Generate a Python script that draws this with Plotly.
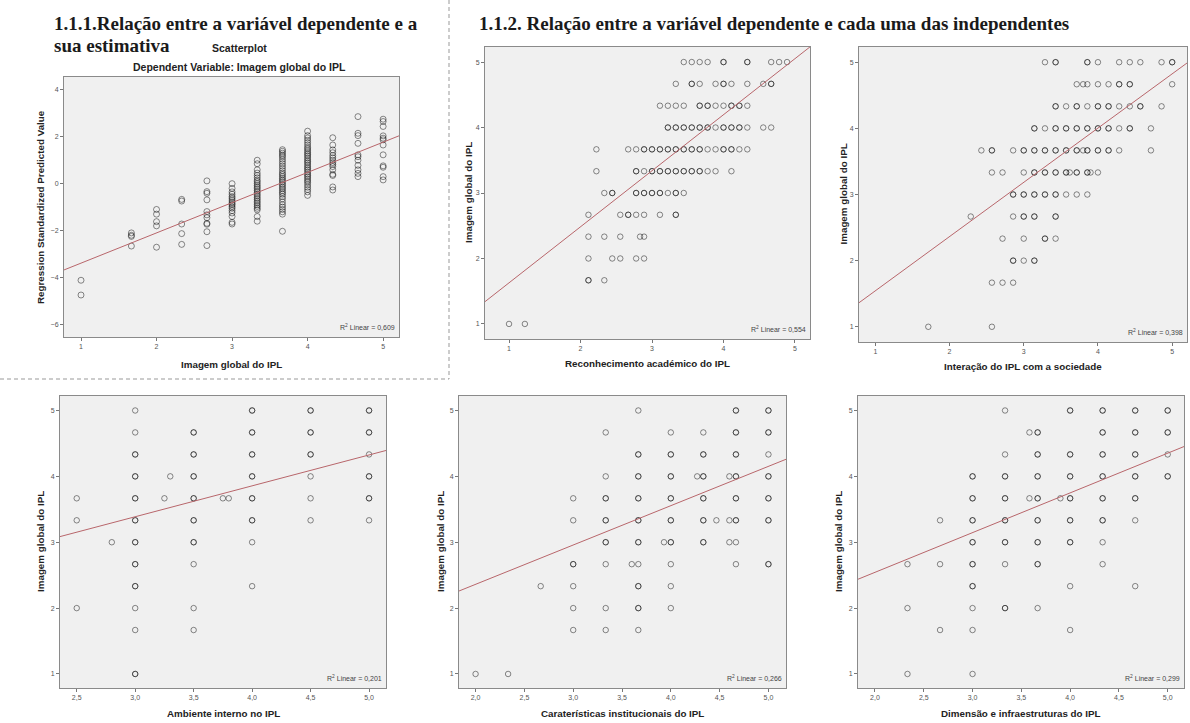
import plotly.graph_objects as go

W, H = 1190, 723

# ---------------- DATA ----------------
# Panel 1: Imagem global (x) vs Regression Standardized Predicted Value (y)
p1_levels = [1, 1.667, 2, 2.333, 2.667, 3, 3.333, 3.667, 4, 4.333, 4.667, 5]
p1_values = [
    [-4.12, -4.75],
    [-2.1, -2.2, -2.25, -2.66],
    [-1.1, -1.3, -1.62, -1.8, -2.71],
    [-0.67, -0.74, -1.72, -2.13, -2.59],
    [0.12, -0.34, -0.41, -0.69, -1.19, -1.33, -1.45, -1.69, -1.73, -2.05, -2.64],
    [0.0, -0.2, -0.35, -0.45, -0.55, -0.62, -0.7, -0.78, -0.85, -0.9, -0.98,
     -1.05, -1.15, -1.25, -1.4, -1.65, -1.72],
    [1.0, 0.85, 0.59, 0.45, 0.35, 0.25, 0.15, 0.08, 0.0, -0.08, -0.15, -0.22,
     -0.3, -0.37, -0.45, -0.52, -0.6, -0.67, -0.75, -0.82, -0.9, -0.97, -1.05,
     -1.12, -1.4, -1.6],
    [1.45, 1.38, 1.3, 1.22, 1.15, 1.05, 0.95, 0.85, 0.75, 0.65, 0.55, 0.45, 0.38,
     0.3, 0.22, 0.15, 0.08, 0.0, -0.07, -0.15, -0.22, -0.3, -0.38, -0.45, -0.55,
     -0.65, -0.78, -0.9, -1.0, -1.1, -1.2, -1.3, -2.03],
    [2.24, 2.05, 1.95, 1.85, 1.75, 1.65, 1.55, 1.48, 1.4, 1.32, 1.25, 1.18, 1.1,
     1.02, 0.95, 0.88, 0.8, 0.72, 0.65, 0.58, 0.5, 0.42, 0.35, 0.28, 0.2, 0.12,
     0.05, -0.05, -0.15, -0.25, -0.35, -0.5],
    [1.96, 1.65, 1.44, 1.32, 1.2, 1.1, 1.0, 0.9, 0.82, 0.73, 0.59, 0.4, 0.35,
     -0.14, -0.27],
    [2.86, 2.15, 2.05, 1.72, 1.23, 1.15, 1.0, 0.78, 0.59, 0.44, 0.3],
    [2.75, 2.65, 2.44, 2.04, 1.94, 1.87, 1.65, 1.23, 0.76, 0.7, 0.3, 0.16],
]
p1_fit = [-4.68, 1.29]          # intercept, slope
p1_r2 = "0,609"

# Panel 2: Reconhecimento académico (x) vs Imagem global (y) — rows by y
p2_rows = [5, 4.667, 4.333, 4, 3.667, 3.333, 3, 2.667, 2.333, 2, 1.667, 1]
p2_xs = [
    [3.444, 3.556, 3.667, 3.778, 4.0, 4.0, 4.333, 4.333, 4.667, 4.778, 4.889],
    [3.333, 3.556, 3.556, 3.667, 3.889, 4.0, 4.0, 4.111, 4.333, 4.556, 4.667, 4.667],
    [3.111, 3.222, 3.333, 3.444, 3.667, 3.667, 3.778, 3.778, 3.889, 4.0, 4.111,
     4.111, 4.222, 4.222, 4.333],
    [3.222, 3.222, 3.333, 3.333, 3.444, 3.444, 3.556, 3.556, 3.667, 3.667, 3.778,
     3.778, 3.889, 4.0, 4.0, 4.111, 4.111, 4.222, 4.222, 4.333, 4.556, 4.667],
    [2.222, 2.667, 2.778, 2.889, 2.889, 3.0, 3.0, 3.111, 3.111, 3.222, 3.222,
     3.333, 3.333, 3.444, 3.444, 3.556, 3.556, 3.667, 3.667, 3.778, 3.889, 4.0,
     4.0, 4.111, 4.111, 4.222, 4.333],
    [2.222, 2.778, 2.778, 2.889, 3.0, 3.0, 3.111, 3.111, 3.222, 3.222, 3.333,
     3.333, 3.444, 3.444, 3.556, 3.556, 3.667, 3.667, 3.778, 3.889, 4.111],
    [2.333, 2.444, 2.444, 2.778, 2.778, 2.889, 2.889, 3.0, 3.0, 3.111, 3.111,
     3.222, 3.333, 3.333, 3.444],
    [2.111, 2.556, 2.667, 2.667, 2.778, 2.889, 3.111, 3.333, 3.333],
    [2.111, 2.333, 2.556, 2.833, 2.889],
    [2.111, 2.444, 2.556, 2.778, 2.889],
    [2.111, 2.111, 2.333],
    [1.0, 1.222],
]
p2_fit = [0.772, 0.856]
p2_r2 = "0,554"

# Panel 3: Interação do IPL com a sociedade (x) vs Imagem global (y) — rows by y
p3_rows = [5, 4.667, 4.333, 4, 3.667, 3.333, 3, 2.667, 2.333, 2, 1.667, 1]
p3_xs = [
    [3.286, 3.429, 3.429, 3.857, 3.857, 4.0, 4.286, 4.429, 4.571, 4.857, 5.0, 5.0],
    [3.714, 3.8, 3.857, 4.0, 4.143, 4.286, 4.286, 4.429, 4.429, 5.0],
    [3.429, 3.429, 3.571, 3.714, 3.714, 3.857, 4.0, 4.0, 4.143, 4.143, 4.286,
     4.429, 4.571, 4.571, 4.857],
    [3.143, 3.143, 3.286, 3.429, 3.429, 3.571, 3.571, 3.714, 3.714, 3.857, 3.857,
     4.0, 4.0, 4.143, 4.143, 4.286, 4.429, 4.429, 4.714],
    [2.429, 2.571, 2.571, 2.857, 3.0, 3.0, 3.143, 3.143, 3.286, 3.286, 3.429,
     3.429, 3.571, 3.571, 3.714, 3.714, 3.8, 3.857, 3.857, 4.0, 4.0, 4.143,
     4.143, 4.286, 4.714],
    [2.571, 2.714, 3.0, 3.143, 3.143, 3.286, 3.286, 3.429, 3.429, 3.571, 3.571,
     3.62, 3.714, 3.714, 3.857, 3.857, 3.9, 4.0],
    [2.857, 2.857, 3.0, 3.0, 3.143, 3.143, 3.286, 3.286, 3.429, 3.429, 3.571,
     3.714, 3.857],
    [2.286, 2.857, 3.0, 3.0, 3.143, 3.143, 3.429, 3.429],
    [2.714, 3.0, 3.286, 3.286, 3.429],
    [2.857, 2.857, 3.0, 3.143, 3.143],
    [2.571, 2.714, 2.857],
    [1.714, 2.571],
]
p3_fit = [0.724, 0.82]
p3_r2 = "0,398"

# Panel 4: Ambiente interno (x) vs Imagem global (y) — columns by x
p4_cols = [2.5, 2.8, 3.0, 3.25, 3.3, 3.5, 3.75, 3.8, 4.0, 4.5, 5.0]
p4_ys = [
    [3.667, 3.333, 2.0],
    [3.0],
    [5, 4.667, 4.333, 4.333, 4, 4, 3.667, 3.667, 3.333, 3.333, 3, 3, 2.667,
     2.667, 2.333, 2.333, 2, 1.667, 1, 1],
    [3.667],
    [4.0],
    [4.667, 4.667, 4.333, 4.333, 4, 4, 3.667, 3.667, 3.333, 3.333, 3, 3, 2.667,
     2, 1.667],
    [3.667],
    [3.667],
    [5, 5, 4.667, 4.667, 4.333, 4.333, 4, 4, 3.667, 3.667, 3.333, 3.333, 3, 2.333],
    [5, 5, 4.667, 4.667, 4.333, 4.333, 4, 3.667, 3.333],
    [5, 5, 4.667, 4.667, 4.333, 4, 4, 3.667, 3.667, 3.333],
]
p4_fit = [1.98, 0.469]
p4_r2 = "0,201"

# Panel 5: Caraterísticas institucionais (x) vs Imagem global (y)
p5_cols = [2.0, 2.333, 2.667, 3.0, 3.333, 3.6, 3.667, 3.93, 4.0, 4.27, 4.333,
           4.467, 4.6, 4.667, 5.0]
p5_ys = [
    [1],
    [1],
    [2.333],
    [3.667, 3.333, 2.667, 2.667, 2.333, 2, 1.667],
    [4.667, 4, 3.667, 3.667, 3.333, 3.333, 3, 3, 2.667, 2, 1.667],
    [2.667],
    [5, 4.333, 4.333, 4, 4, 3.667, 3.667, 3.333, 3.333, 3, 3, 2.667, 2.333,
     2.333, 2, 2, 1.667],
    [3.0],
    [4.667, 4.333, 4.333, 4, 4, 3.667, 3.667, 3.333, 3.333, 3, 3, 2.667, 2.333, 2],
    [4.0],
    [4.667, 4.333, 4.333, 4, 4, 3.667, 3.667, 3.333, 3.333, 3, 3],
    [3.333],
    [4.0, 3.333, 3.0],
    [5, 5, 4.667, 4.667, 4.333, 4.333, 4, 4, 3.667, 3.667, 3.333, 3.333, 3, 2.667],
    [5, 5, 4.667, 4.667, 4.333, 4, 4, 3.667, 3.667, 3.333, 3.333, 2.667, 2.667],
]
p5_fit = [1.167, 0.597]
p5_r2 = "0,266"

# Panel 6: Dimensão e infraestruturas (x) vs Imagem global (y)
p6_cols = [2.333, 2.667, 3.0, 3.333, 3.583, 3.667, 3.9, 4.0, 4.333, 4.667, 5.0]
p6_ys = [
    [2.667, 2, 1],
    [3.333, 2.667, 1.667],
    [4, 4, 3.667, 3.667, 3.333, 3.333, 3, 3, 2.667, 2.667, 2.333, 2.333, 2,
     1.667, 1],
    [5, 4.333, 4, 4, 3.667, 3.667, 3.333, 3.333, 3, 3, 2.667, 2, 2],
    [4.667, 3.667],
    [4.667, 4.667, 4.333, 4.333, 4, 4, 3.667, 3.667, 3.333, 3.333, 3, 3, 2.667,
     2.667, 2],
    [3.667],
    [5, 5, 4.333, 4.333, 4, 4, 3.667, 3.667, 3.333, 3.333, 3, 3, 2.333, 1.667],
    [5, 5, 4.667, 4.667, 4.333, 4.333, 4, 4, 3.667, 3.667, 3.333, 3.333, 3, 2.667],
    [5, 5, 4.667, 4.667, 4.333, 4.333, 4, 4, 3.667, 3.667, 3.333, 2.333],
    [5, 5, 4.667, 4.667, 4.333, 4, 4],
]
p6_fit = [1.337, 0.603]
p6_r2 = "0,299"

x_titles = ["Imagem global do IPL", "Reconhecimento académico do IPL",
            "Interação do IPL com a sociedade", "Ambiente interno no IPL",
            "Caraterísticas institucionais do IPL", "Dimensão e infraestruturas do IPL"]
y_titles = ["Regression Standardized Predicted Value"] + ["Imagem global do IPL"] * 5

# ---------------- LAYOUT HELPERS ----------------
def cols_to_xy(cols, vals):
    xs, ys = [], []
    for c, vs in zip(cols, vals):
        for v in vs:
            xs.append(c); ys.append(v)
    return xs, ys

def rows_to_xy(rows, vals):
    xs, ys = [], []
    for r, vs in zip(rows, vals):
        for v in vs:
            xs.append(v); ys.append(r)
    return xs, ys

panels = [
    dict(xy=cols_to_xy(p1_levels, p1_values), fit=p1_fit, r2=p1_r2,
         box=(64, 399, 77, 337), xr=[0.775, 5.21], yr=[-6.54, 4.55],
         xt=[1, 2, 3, 4, 5], yt=[-6, -4, -2, 0, 2, 4], xfmt="d", ytx=40, xty=364, msize=6),
    dict(xy=rows_to_xy(p2_rows, p2_xs), fit=p2_fit, r2=p2_r2,
         box=(485, 810, 47, 339), xr=[0.664, 5.21], yr=[0.77, 5.23],
         xt=[1, 2, 3, 4, 5], yt=[1, 2, 3, 4, 5], xfmt="d", ytx=469, xty=363, msize=5.5),
    dict(xy=rows_to_xy(p3_rows, p3_xs), fit=p3_fit, r2=p3_r2,
         box=(859, 1187, 47, 342), xr=[0.78, 5.2], yr=[0.77, 5.23],
         xt=[1, 2, 3, 4, 5], yt=[1, 2, 3, 4, 5], xfmt="d", ytx=843, xty=366, msize=5.5),
    dict(xy=cols_to_xy(p4_cols, p4_ys), fit=p4_fit, r2=p4_r2,
         box=(60, 386, 396, 688), xr=[2.357, 5.145], yr=[0.787, 5.22],
         xt=[2.5, 3.0, 3.5, 4.0, 4.5, 5.0], yt=[1, 2, 3, 4, 5], xfmt=".1f", ytx=40, xty=713, msize=5.5),
    dict(xy=cols_to_xy(p5_cols, p5_ys), fit=p5_fit, r2=p5_r2,
         box=(459, 786, 396, 688), xr=[1.83, 5.18], yr=[0.787, 5.22],
         xt=[2.0, 2.5, 3.0, 3.5, 4.0, 4.5, 5.0], yt=[1, 2, 3, 4, 5], xfmt=".1f", ytx=440, xty=713, msize=5.5),
    dict(xy=cols_to_xy(p6_cols, p6_ys), fit=p6_fit, r2=p6_r2,
         box=(858, 1184, 396, 688), xr=[1.826, 5.167], yr=[0.787, 5.22],
         xt=[2.0, 2.5, 3.0, 3.5, 4.0, 4.5, 5.0], yt=[1, 2, 3, 4, 5], xfmt=".1f", ytx=838, xty=713, msize=5.5),
]

fig = go.Figure()
layout = dict(width=W, height=H, margin=dict(l=0, r=0, t=0, b=0),
              paper_bgcolor="white", plot_bgcolor="#f0f0f0", showlegend=False,
              separators=",.", annotations=[], shapes=[])

AX = dict(showline=True, linecolor="#8a8a8a", linewidth=1, mirror=True,
          ticks="outside", ticklen=3, tickwidth=1, tickcolor="#777",
          tickfont=dict(size=7, color="#555", family="Liberation Sans"),
          showgrid=False, zeroline=False, fixedrange=True)

SANSB = "Liberation Sans"

for i, p in enumerate(panels):
    n = "" if i == 0 else str(i + 1)
    xa, ya = "x" + n, "y" + n
    l, r, t, b = p["box"]
    layout["xaxis" + n] = dict(AX, domain=[l / W, r / W], range=p["xr"], anchor=ya,
                               tickvals=p["xt"], tickformat=p["xfmt"])
    layout["yaxis" + n] = dict(AX, domain=[1 - b / H, 1 - t / H], range=p["yr"], anchor=xa,
                               tickvals=p["yt"], tickformat="d")
    xs, ys = p["xy"]
    fig.add_trace(go.Scatter(x=xs, y=ys, mode="markers", xaxis=xa, yaxis=ya,
                             marker=dict(symbol="circle-open", size=p["msize"],
                                         color="rgba(0,0,0,0.45)", line=dict(width=1)),
                             hoverinfo="skip"))
    a, s = p["fit"]
    fx = p["xr"]
    fig.add_trace(go.Scatter(x=fx, y=[a + s * v for v in fx], mode="lines",
                             xaxis=xa, yaxis=ya, line=dict(color="#b8666b", width=1),
                             hoverinfo="skip"))
    # R2 label
    layout["annotations"].append(dict(
        text="R<sup>2</sup> Linear = " + p["r2"], xref=xa + " domain", yref=ya + " domain",
        x=0.995, y=0.015, xanchor="right", yanchor="bottom", showarrow=False,
        font=dict(size=7, color="#444", family="Liberation Sans")))
    # axis titles
    layout["annotations"].append(dict(
        text="<b>" + x_titles[i] + "</b>", xref="paper", yref="paper",
        x=(l + r) / 2 / W, y=1 - p["xty"] / H, xanchor="center", yanchor="middle",
        showarrow=False, font=dict(size=9.8, color="#222", family=SANSB)))
    layout["annotations"].append(dict(
        text="<b>" + y_titles[i] + "</b>", xref="paper", yref="paper",
        x=p["ytx"] / W, y=1 - (t + b) / 2 / H, xanchor="center", yanchor="middle",
        textangle=-90, showarrow=False, font=dict(size=9.8, color="#222", family=SANSB)))

# headings
SERIF = "Liberation Serif"
def txt(text, x, y, size, family, anchor="left", color="#1a1a1a"):
    layout["annotations"].append(dict(text=text, xref="paper", yref="paper",
        x=x / W, y=1 - y / H, xanchor=anchor, yanchor="middle", showarrow=False,
        font=dict(size=size, family=family, color=color)))

txt("<b>1.1.1.Relação entre a variável dependente e a</b>", 52, 24, 19, SERIF)
txt("<b>sua estimativa</b>", 52, 45, 19, SERIF)
txt("<b>Scatterplot</b>", 210, 48, 10.5, SANSB, color="#222")
txt("<b>Dependent Variable: Imagem global do IPL</b>", 239, 67, 10.5, SANSB, "center", "#222")
txt("<b>1.1.2. Relação entre a variável dependente e cada uma das independentes</b>",
    477, 24, 19, SERIF)

# dashed separators
layout["shapes"] += [
    dict(type="line", xref="paper", yref="paper", x0=0, x1=449 / W,
         y0=1 - 379 / H, y1=1 - 379 / H, line=dict(color="#999999", width=1, dash="4px,3px")),
    dict(type="line", xref="paper", yref="paper", x0=449 / W, x1=449 / W,
         y0=1, y1=1 - 379 / H, line=dict(color="#999999", width=1, dash="4px,3px")),
]

fig.update_layout(**layout)
fig.write_html("out.html")
